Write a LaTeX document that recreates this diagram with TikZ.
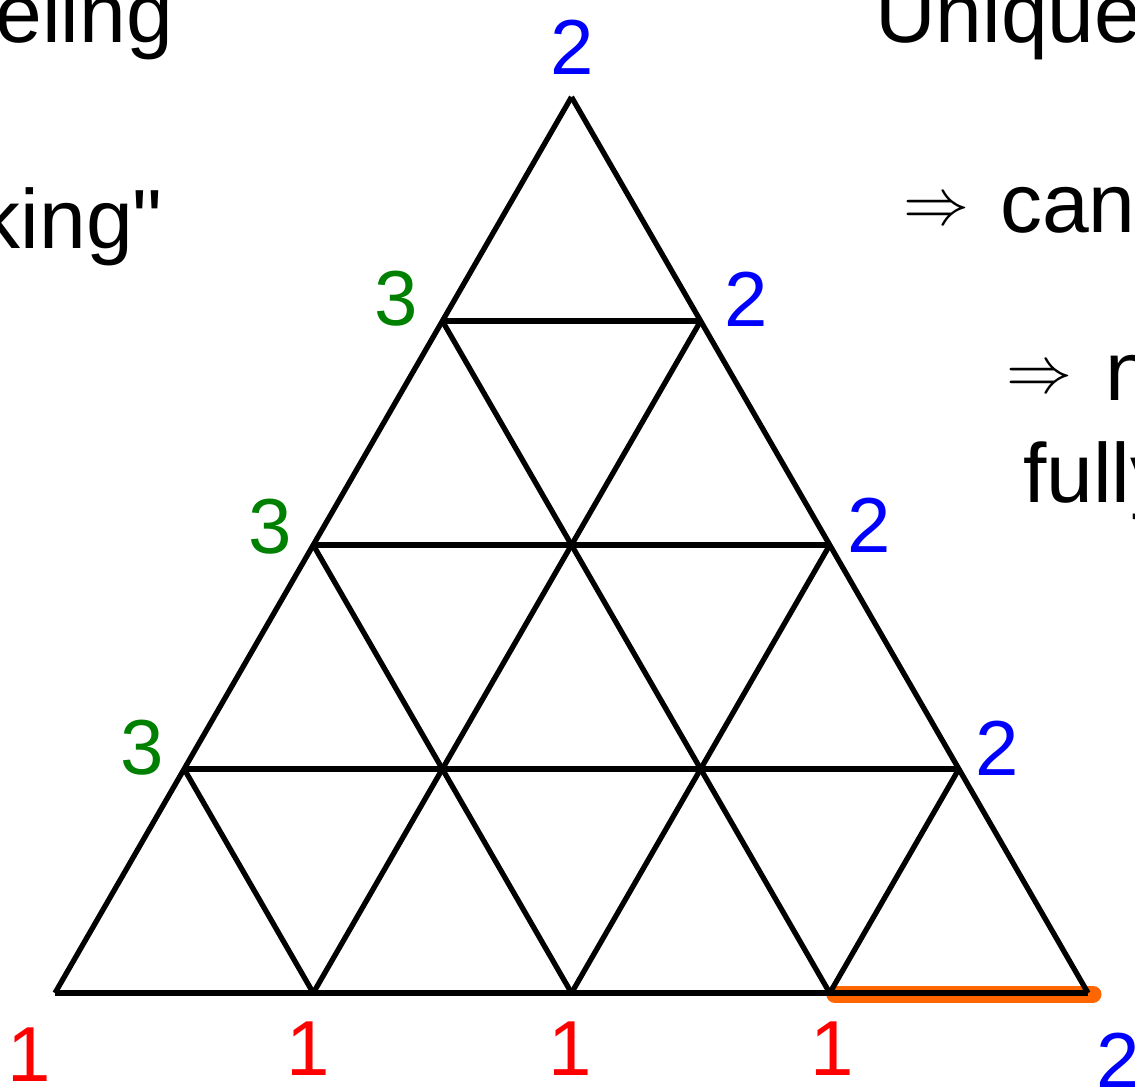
\documentclass[tikz,border=0pt]{standalone}
\usepackage{fontspec}
\setmainfont{Liberation Sans}
\newfontfamily\plainquote{Liberation Sans}[Ligatures=TeXOff]
\definecolor{lblred}{RGB}{255,0,0}
\definecolor{lblblue}{RGB}{0,0,255}
\definecolor{lblgreen}{RGB}{0,128,0}
\definecolor{hlorange}{RGB}{255,102,0}
\begin{document}
\begin{tikzpicture}[x=1pt,y=-1pt,
  grid/.style={line width=5.3pt,black},
  hl/.style={line width=17pt,hlorange,line cap=round},
  lbl/.style={inner sep=0pt,font=\fontsize{78}{90}\selectfont},
  txt/.style={inner sep=0pt,font=\fontsize{84}{100}\selectfont},
  arr/.style={inner sep=0pt}]
\useasboundingbox (0,0) rectangle (1135,1088);
\clip (0,0) rectangle (1135,1088);
% vertices v<i><j>
\foreach \j in {0,...,4}{
  \pgfmathtruncatemacro{\m}{4-\j}
  \foreach \i in {0,...,\m}{
    \coordinate (v\i\j) at ({55+258.25*\i+129.125*\j},{993-224*\j});
  }
}
% highlighted edge
\draw[hl] ([xshift=5pt,yshift=-1pt]v30) -- ([xshift=5pt,yshift=-1pt]v40);
% horizontal lines
\draw[grid] (v00) -- (v40);
\draw[grid] (v01) -- (v31);
\draw[grid] (v02) -- (v22);
\draw[grid] (v03) -- (v13);
% lines parallel to left side
\draw[grid] (v00) -- (v04);
\draw[grid] (v10) -- (v13);
\draw[grid] (v20) -- (v22);
\draw[grid] (v30) -- (v31);
% lines parallel to right side
\draw[grid] (v40) -- (v04);
\draw[grid] (v30) -- (v03);
\draw[grid] (v20) -- (v02);
\draw[grid] (v10) -- (v01);
% vertex labels
\node[lbl,text=lblblue] (t2) at (572,47) {2};
\node[lbl,text=lblgreen] (l3a) at (396,299) {3};
\node[lbl,text=lblgreen] (l3b) at (270,527) {3};
\node[lbl,text=lblgreen] (l3c) at (142,748) {3};
\node[lbl,text=lblblue] (r2a) at (746,299) {2};
\node[lbl,text=lblblue] (r2b) at (869,525) {2};
\node[lbl,text=lblblue] (r2c) at (997,748) {2};
\node[lbl,text=lblred] (b1a) at (29,1055) {1};
\node[lbl,text=lblred] (b1b) at (308,1049) {1};
\node[lbl,text=lblred] (b1c) at (570,1049) {1};
\node[lbl,text=lblred] (b1d) at (832,1049) {1};
\node[lbl,text=lblblue] (b2) at (1118,1060) {2};
% surrounding slide text (cropped)
\node[txt,anchor=base east] (w1) at (173,42) {eling};
\node[txt,anchor=base east] (w2) at (163,248) {\plainquote king"};
\node[txt,anchor=base west] (w3) at (875,42) {Unique};
\node[arr,anchor=base west] (a1) at (903,224) {\scalebox{6.6}{$\Rightarrow$}};
\node[txt,anchor=base west] (w4) at (1000,232) {cann};
\node[arr,anchor=base west] (a2) at (1006,392) {\scalebox{6.6}{$\Rightarrow$}};
\node[txt,anchor=base west] (w5) at (1105,400) {n};
\node[txt,anchor=base west] (w6) at (1023,502) {fully};
\end{tikzpicture}
\end{document}
